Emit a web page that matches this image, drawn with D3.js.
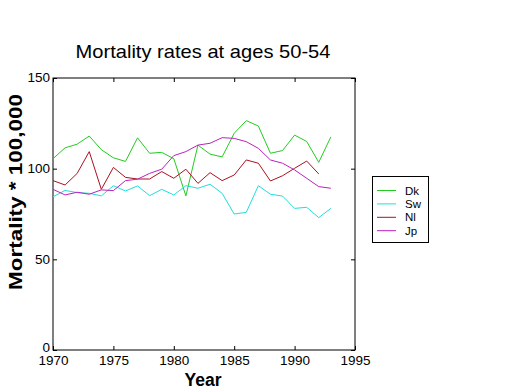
<!DOCTYPE html>
<html><head><meta charset="utf-8">
<script src="https://cdn.jsdelivr.net/npm/d3@7"></script>
<style>body{margin:0;background:#fff}svg{display:block}text{font-family:"Liberation Sans",Arial,sans-serif}</style>
</head><body><svg id="c" width="520" height="390"></svg>
<script>
const years = d3.range(1970, 1994);
const seriesNames = ["Dk", "Sw", "Nl", "Jp"];
const seriesColors = ["#22cc22", "#22dddd", "#aa1122", "#bb22bb"];
const dk = [105.5, 111.5, 113.5, 118, 110.5, 106, 104, 117, 108.5, 109, 105.5, 85, 113, 108, 106.5, 119.5, 126.5, 123.5, 108.5, 110, 118.5, 115, 103.5, 117.5];
const sw = [84.5, 88, 86.8, 86.4, 85, 90.6, 87.7, 90.5, 85.1, 88.6, 85.5, 90.6, 89.2, 91.4, 86.4, 75, 75.9, 90.6, 85.9, 84.9, 78.1, 78.7, 73, 78.1];
const nl = [93.4, 91, 97.4, 109.4, 88.6, 100.7, 95.2, 94.3, 94.3, 98.4, 94.7, 99.7, 91.9, 97.8, 93.4, 96.5, 104.8, 103, 93.2, 96.1, 100.2, 104.2, 97.1];
const jp = [88.6, 85.5, 87, 85.9, 88.3, 87.9, 93.4, 94.2, 97.4, 99.7, 107.2, 109.4, 113, 114, 117.1, 116.7, 114.9, 111.2, 104.8, 103, 99.3, 94.7, 90.1, 89.2];
const seriesValues = [dk, sw, nl, jp];
const xTicks = [1970, 1975, 1980, 1985, 1990, 1995];
const yTicks = [0, 50, 100, 150];

const svg = d3.select("#c");
const L = 53, R = 355, T = 78, B = 350;
const x = d3.scaleLinear().domain([1970, 1995]).range([L, R]);
const y = d3.scaleLinear().domain([0, 150]).range([B, T]);

const tickFont = "13.5px";
svg.append("rect").attr("x", L).attr("y", T).attr("width", R - L).attr("height", B - T)
  .attr("fill", "none").attr("stroke", "#000").attr("stroke-width", 1);

const gx = svg.append("g").attr("transform", `translate(0,${B})`)
  .call(d3.axisBottom(x).tickValues(xTicks).tickFormat(d3.format("d")).tickSizeInner(-4).tickSizeOuter(0).tickPadding(5));
const gxt = svg.append("g").attr("transform", `translate(0,${T})`)
  .call(d3.axisTop(x).tickValues(xTicks).tickFormat("").tickSizeInner(-4).tickSizeOuter(0));
const gy = svg.append("g").attr("transform", `translate(${L},0)`)
  .call(d3.axisLeft(y).tickValues(yTicks).tickSizeInner(-4).tickSizeOuter(0).tickPadding(3));
const gyr = svg.append("g").attr("transform", `translate(${R},0)`)
  .call(d3.axisRight(y).tickValues(yTicks).tickFormat("").tickSizeInner(-4).tickSizeOuter(0));
[gx, gxt, gy, gyr].forEach(g => {
  g.select(".domain").remove();
  g.selectAll("text").attr("font-family", "'Liberation Sans',Arial,sans-serif").attr("font-size", tickFont).attr("fill", "#000");
  g.selectAll("line").attr("stroke", "#000");
});
gx.selectAll("text").attr("dy", "0.75em");
gy.selectAll("text").attr("dy", d => d === 0 ? "0.12em" : "0.28em");

const line = d3.line().x((d, i) => x(years[i])).y(d => y(d));
seriesValues.forEach((vals, k) => {
  svg.append("path").datum(vals).attr("d", line).attr("fill", "none")
    .attr("stroke", seriesColors[k]).attr("stroke-width", 1);
});

svg.append("text").attr("x", 203).attr("y", 58).attr("text-anchor", "middle")
  .attr("font-size", "19px").attr("textLength", 255).attr("lengthAdjust", "spacingAndGlyphs")
  .text("Mortality rates at ages 50-54");
svg.append("text").attr("x", 203).attr("y", 386).attr("text-anchor", "middle")
  .attr("font-size", "17.5px").attr("font-weight", "bold").text("Year");
svg.append("text").attr("transform", "translate(22,192) rotate(-90)").attr("text-anchor", "middle")
  .attr("font-size", "18px").attr("font-weight", "bold")
  .attr("textLength", 196).attr("lengthAdjust", "spacingAndGlyphs").text("Mortality * 100,000");

const lg = svg.append("g");
lg.append("rect").attr("x", 372.5).attr("y", 176.5).attr("width", 56).attr("height", 66)
  .attr("fill", "#fff").attr("stroke", "#000");
seriesNames.forEach((n, i) => {
  const yy = 190.5 + i * 13.4;
  lg.append("line").attr("x1", 377).attr("x2", 396).attr("y1", yy).attr("y2", yy)
    .attr("stroke", seriesColors[i]);
  lg.append("text").attr("x", 405).attr("y", yy + 4).attr("font-size", "11.5px").text(n);
});
</script></body></html>
